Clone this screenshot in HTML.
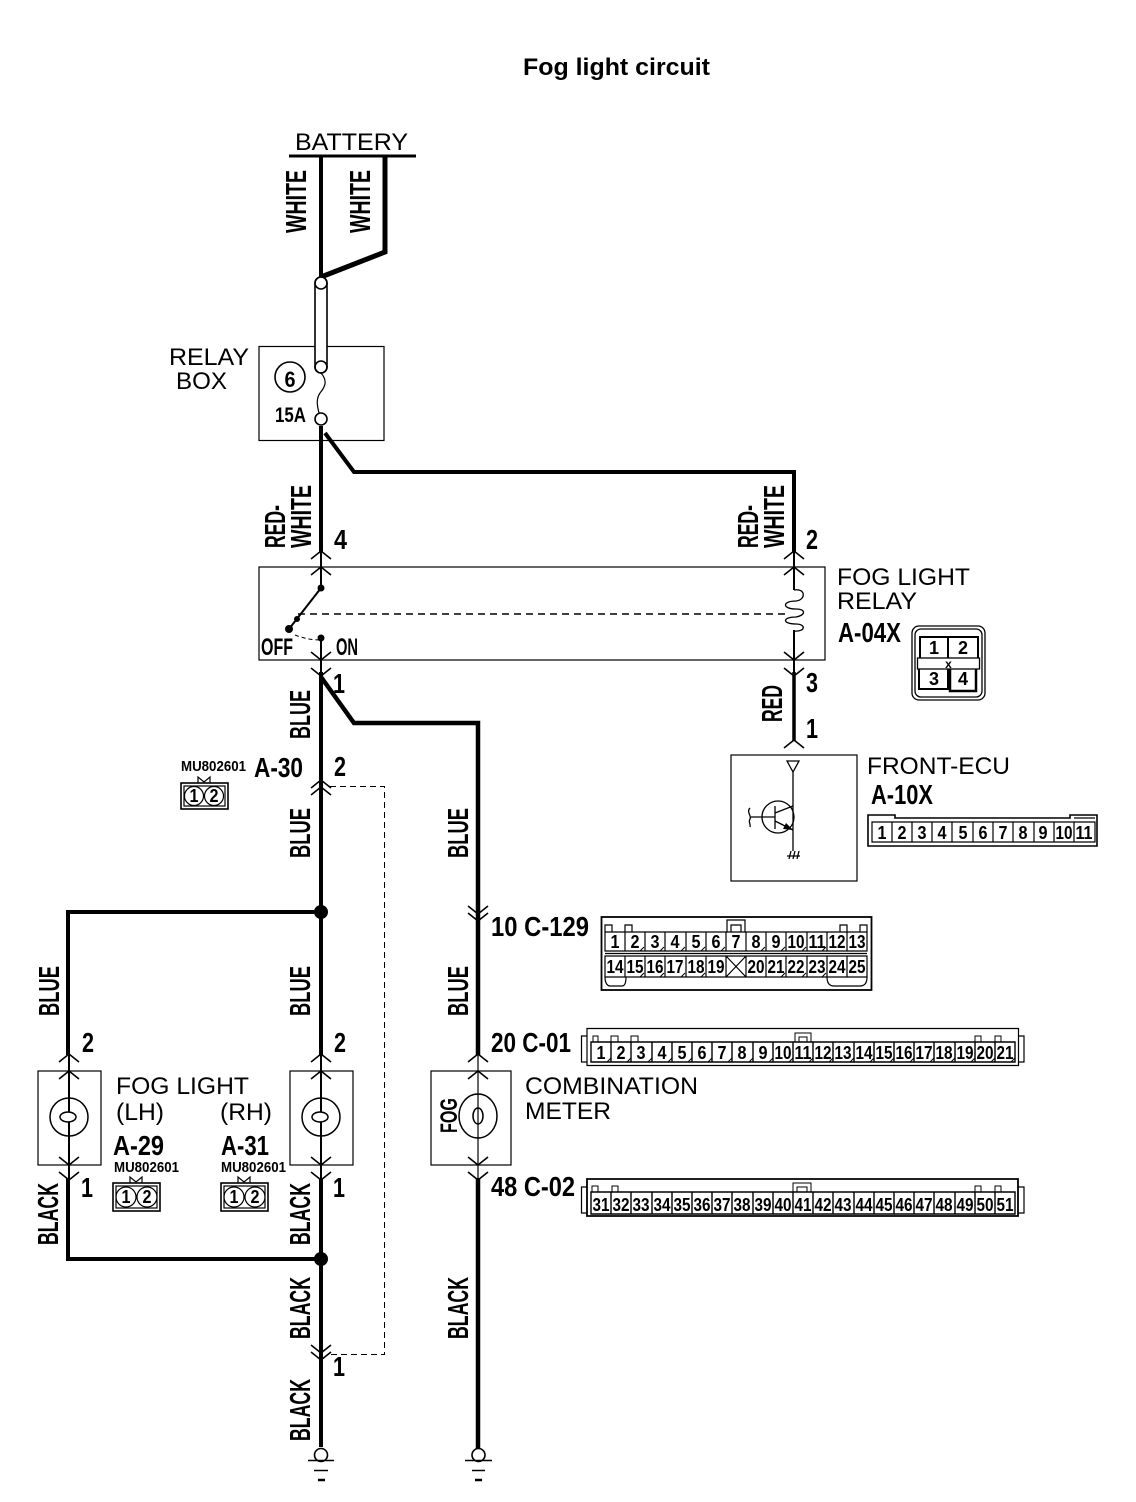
<!DOCTYPE html>
<html><head><meta charset="utf-8"><style>
html,body{margin:0;padding:0;background:#fff}
svg{display:block}
text{font-family:"Liberation Sans",sans-serif;fill:#000}
.b{font-weight:bold}
.n{font-size:24px}
.c{font-weight:bold;font-size:28px}
.w{font-weight:bold;font-size:29px}
.p{font-weight:bold;font-size:18px;text-anchor:middle}
.m{font-weight:bold;font-size:15px}
.l{fill:none;stroke:#000;stroke-linejoin:miter}
</style></head><body>
<svg width="1136" height="1502" viewBox="0 0 1136 1502" xmlns="http://www.w3.org/2000/svg">
<rect width="1136" height="1502" fill="#fff"/>
<text x="523" y="75" class="b" font-size="24" textLength="187" lengthAdjust="spacingAndGlyphs">Fog light circuit</text>

<!-- thick wires -->
<g class="l" stroke-width="4" fill="none" stroke="#000">
<path d="M321 156V278"/>
<path d="M385 156V252L321 277" stroke-width="5"/>
<path d="M321 426V552"/>
<path d="M325 433L354 472H794V552"/>
<path d="M321 672V1055"/>
<path d="M321 677L354 723H478V1055" stroke-width="4.5"/>
<path d="M321 912H68V1055"/>
<path d="M68 1178V1259H321"/>
<path d="M321 1178V1447"/>
<path d="M478 1178V1449" stroke-width="4.5"/>
<path d="M794 672V741" stroke-width="3.5"/>
</g>
<path d="M289 156H416" stroke="#000" stroke-width="3"/>

<!-- boxes -->
<g class="l" stroke-width="1.2" fill="none" stroke="#000">
<rect x="259" y="346.500" width="125" height="94"/>
<rect x="259" y="567" width="566" height="93"/>
<rect x="731" y="755" width="126" height="126"/>
<rect x="38" y="1071" width="63" height="94"/>
<rect x="290" y="1071" width="63" height="94"/>
<rect x="431" y="1071" width="80" height="94"/>
<circle cx="290" cy="377" r="15" stroke-width="1.6"/>
</g>

<!-- fuse -->
<g class="l" stroke-width="1.6" fill="#fff" stroke="#000">
<path d="M315 283V367A6 6 0 0 0 327 367V283A6 6 0 0 0 315 283Z" fill="#fff"/>
<circle cx="321" cy="283" r="6"/>
<circle cx="321" cy="367" r="6"/>
<path d="M321 373C328 381 325 387 320 393C316 399 317 405 319 413" fill="none" stroke-width="1.2"/>
<circle cx="321" cy="419" r="6"/>
</g>

<!-- thin internal lines -->
<g class="l" stroke-width="2" fill="none" stroke="#000">
<path d="M321 550V588L289 629"/>
<path d="M321 638V676"/>
<path d="M794 550V590M794 630V676"/>
<path d="M69 1053V1112M69 1122V1180"/>
<path d="M321 1053V1112M321 1122V1180"/>
<path d="M478 1053V1180" stroke-width="1.2"/>
</g>

<!-- chevrons -->
<g class="l" stroke-width="1.6" fill="none" stroke="#000">
<path d="M311 559L321 551L331 559M311 575L321 567L331 575"/>
<path d="M784 559L794 551L804 559M784 575L794 567L804 575"/>
<path d="M311 652L321 660L331 652M311 668L321 676L331 668"/>
<path d="M784 652L794 660L804 652M784 668L794 676L804 668"/>
<path d="M784 748L794 740L804 748"/>
<path d="M311 788L321 780L331 788M311 795L321 787L331 795"/>
<path d="M311 1345L321 1353L331 1345M311 1352L321 1360L331 1352"/>
<path d="M468 906L478 914L488 906M468 913L478 921L488 913"/>
<path d="M59 1062L69 1054L79 1062M59 1079L69 1071L79 1079"/>
<path d="M311 1062L321 1054L331 1062M311 1079L321 1071L331 1079"/>
<path d="M468 1062L478 1054L488 1062M468 1079L478 1071L488 1079"/>
<path d="M59 1157L69 1165L79 1157M59 1172L69 1180L79 1172"/>
<path d="M311 1157L321 1165L331 1157M311 1172L321 1180L331 1172"/>
<path d="M468 1157L478 1165L488 1157M468 1172L478 1180L488 1172"/>
</g>

<!-- dashes -->
<g fill="none" stroke="#000">
<path d="M298 614H790" stroke-width="1.6" stroke-dasharray="7 5"/>
<path d="M295 635Q308 640 321 640" stroke-width="1" stroke-dasharray="4 3"/>
<path d="M330 786.500H384.500V1354.500H330" stroke-width="1" stroke-dasharray="6 4" shape-rendering="crispEdges"/>
</g>

<!-- dots -->
<circle cx="321" cy="588" r="3.500"/>
<circle cx="289" cy="629" r="4"/>
<circle cx="297" cy="619" r="3"/>
<circle cx="321" cy="638" r="3.500"/>
<circle cx="321" cy="912" r="7"/>
<circle cx="321" cy="1259" r="7"/>

<!-- coil -->
<path d="M794 590C806 588 806 600 796 601C782 601 782 609 796 609C806 609 806 615 796 617C782 617 782 624 796 624C806 624 806 632 794 631" fill="none" stroke="#000" stroke-width="1.3"/>

<!-- lamps -->
<g fill="none" stroke="#000" stroke-width="1.5">
<circle cx="69" cy="1117" r="19"/>
<ellipse cx="68" cy="1117" rx="8" ry="5"/>
<circle cx="321" cy="1117" r="19"/>
<ellipse cx="320" cy="1117" rx="8" ry="5"/>
<ellipse cx="478" cy="1116" rx="19" ry="22"/>
<ellipse cx="478" cy="1116" rx="5" ry="8"/>
</g>

<!-- grounds -->
<g fill="#fff" stroke="#000" stroke-width="1.6">
<circle cx="321" cy="1455" r="6.500"/>
<circle cx="478.500" cy="1455" r="6.500"/>
<path d="M308 1460.500H334M314 1470.500H328M465 1460.500H492M472 1470.500H485" fill="none"/>
<path d="M318 1480H325M475 1480H482" fill="none" stroke-width="2.500"/>
</g>

<!-- transistor -->
<g fill="none" stroke="#000" stroke-width="1.3">
<path d="M787 761H799L793 772Z"/>
<path d="M793 772V851"/>
<circle cx="778" cy="817" r="16"/>
<path d="M751 817H775M775 806V829" />
<path d="M775 813L793 806M775 821L793 830"/>
<path d="M750 808C746 812 752 816 750 819C748 822 751 824 750 827"/>
<path d="M787 856H800M789 859L791 851M793 859L795 851M797 859L799 851"/>
</g>
<path d="M793 830L783 829L786 823Z"/>

<!-- regular labels -->
<g class="n">
<text x="295" y="150" textLength="113" lengthAdjust="spacingAndGlyphs">BATTERY</text>
<text x="169" y="365" textLength="80" lengthAdjust="spacingAndGlyphs">RELAY</text>
<text x="176" y="389" textLength="51" lengthAdjust="spacingAndGlyphs">BOX</text>
<text x="837" y="585" textLength="133" lengthAdjust="spacingAndGlyphs">FOG LIGHT</text>
<text x="837" y="609" textLength="80" lengthAdjust="spacingAndGlyphs">RELAY</text>
<text x="867" y="774" textLength="143" lengthAdjust="spacingAndGlyphs">FRONT-ECU</text>
<text x="116" y="1094" textLength="133" lengthAdjust="spacingAndGlyphs">FOG LIGHT</text>
<text x="116" y="1120" textLength="48" lengthAdjust="spacingAndGlyphs">(LH)</text>
<text x="220" y="1120" textLength="52" lengthAdjust="spacingAndGlyphs">(RH)</text>
<text x="525" y="1094" textLength="173" lengthAdjust="spacingAndGlyphs">COMBINATION</text>
<text x="525" y="1119" textLength="86" lengthAdjust="spacingAndGlyphs">METER</text>
</g>

<!-- condensed bold labels -->
<g class="c">
<text x="290" y="387" style="font-size:22px;text-anchor:middle" textLength="11" lengthAdjust="spacingAndGlyphs">6</text>
<text x="275" y="422" style="font-size:21px" textLength="31" lengthAdjust="spacingAndGlyphs">15A</text>
<text x="334" y="549" textLength="13" lengthAdjust="spacingAndGlyphs">4</text>
<text x="806" y="549" textLength="12" lengthAdjust="spacingAndGlyphs">2</text>
<text x="806" y="692" textLength="12" lengthAdjust="spacingAndGlyphs">3</text>
<text x="806" y="738" textLength="12" lengthAdjust="spacingAndGlyphs">1</text>
<text x="333" y="693" textLength="12" lengthAdjust="spacingAndGlyphs">1</text>
<text x="334" y="776" textLength="12" lengthAdjust="spacingAndGlyphs">2</text>
<text x="82" y="1052" textLength="12" lengthAdjust="spacingAndGlyphs">2</text>
<text x="334" y="1052" textLength="12" lengthAdjust="spacingAndGlyphs">2</text>
<text x="81" y="1197" textLength="12" lengthAdjust="spacingAndGlyphs">1</text>
<text x="333" y="1197" textLength="12" lengthAdjust="spacingAndGlyphs">1</text>
<text x="333" y="1376" textLength="12" lengthAdjust="spacingAndGlyphs">1</text>
<text x="254" y="777" textLength="49" lengthAdjust="spacingAndGlyphs">A-30</text>
<text x="261" y="655" style="font-size:24px" textLength="32" lengthAdjust="spacingAndGlyphs">OFF</text>
<text x="336" y="655" style="font-size:24px" textLength="22" lengthAdjust="spacingAndGlyphs">ON</text>
<text x="838" y="642" textLength="63" lengthAdjust="spacingAndGlyphs">A-04X</text>
<text x="871" y="804" textLength="62" lengthAdjust="spacingAndGlyphs">A-10X</text>
<text x="113" y="1155" textLength="51" lengthAdjust="spacingAndGlyphs">A-29</text>
<text x="221" y="1155" textLength="48" lengthAdjust="spacingAndGlyphs">A-31</text>
<text x="491" y="936" textLength="98" lengthAdjust="spacingAndGlyphs">10 C-129</text>
<text x="491" y="1052" textLength="80" lengthAdjust="spacingAndGlyphs">20 C-01</text>
<text x="491" y="1196" textLength="84" lengthAdjust="spacingAndGlyphs">48 C-02</text>
</g>
<g class="m">
<text x="181" y="771" textLength="65" lengthAdjust="spacingAndGlyphs">MU802601</text>
<text x="114" y="1172" textLength="65" lengthAdjust="spacingAndGlyphs">MU802601</text>
<text x="221" y="1172" textLength="65" lengthAdjust="spacingAndGlyphs">MU802601</text>
</g>

<!-- rotated wire labels -->
<g class="w">
<text transform="translate(306 233) rotate(-90)" textLength="63" lengthAdjust="spacingAndGlyphs">WHITE</text>
<text transform="translate(370 233) rotate(-90)" textLength="63" lengthAdjust="spacingAndGlyphs">WHITE</text>
<text transform="translate(285 548) rotate(-90)" textLength="43" lengthAdjust="spacingAndGlyphs">RED-</text>
<text transform="translate(311 548) rotate(-90)" textLength="63" lengthAdjust="spacingAndGlyphs">WHITE</text>
<text transform="translate(758 548) rotate(-90)" textLength="43" lengthAdjust="spacingAndGlyphs">RED-</text>
<text transform="translate(784 548) rotate(-90)" textLength="63" lengthAdjust="spacingAndGlyphs">WHITE</text>
<text transform="translate(310 739) rotate(-90)" textLength="49" lengthAdjust="spacingAndGlyphs">BLUE</text>
<text transform="translate(310 858) rotate(-90)" textLength="50" lengthAdjust="spacingAndGlyphs">BLUE</text>
<text transform="translate(468 858) rotate(-90)" textLength="50" lengthAdjust="spacingAndGlyphs">BLUE</text>
<text transform="translate(59 1016) rotate(-90)" textLength="50" lengthAdjust="spacingAndGlyphs">BLUE</text>
<text transform="translate(310 1016) rotate(-90)" textLength="50" lengthAdjust="spacingAndGlyphs">BLUE</text>
<text transform="translate(468 1016) rotate(-90)" textLength="50" lengthAdjust="spacingAndGlyphs">BLUE</text>
<text transform="translate(782 722) rotate(-90)" textLength="37" lengthAdjust="spacingAndGlyphs">RED</text>
<text transform="translate(58 1245) rotate(-90)" textLength="62" lengthAdjust="spacingAndGlyphs">BLACK</text>
<text transform="translate(310 1245) rotate(-90)" textLength="62" lengthAdjust="spacingAndGlyphs">BLACK</text>
<text transform="translate(310 1339) rotate(-90)" textLength="62" lengthAdjust="spacingAndGlyphs">BLACK</text>
<text transform="translate(468 1339) rotate(-90)" textLength="62" lengthAdjust="spacingAndGlyphs">BLACK</text>
<text transform="translate(310 1441) rotate(-90)" textLength="62" lengthAdjust="spacingAndGlyphs">BLACK</text>
<text transform="translate(457 1133) rotate(-90)" style="font-size:24px" textLength="35" lengthAdjust="spacingAndGlyphs">FOG</text>
</g>

<!-- A-04X connector -->
<g fill="none" stroke="#000" stroke-width="1.3">
<rect x="912" y="626" width="73" height="74" rx="7"/>
<rect x="915" y="629" width="67" height="68" rx="6"/>
<path d="M920 658V637H978V658M948 637V658" stroke-width="2"/>
<path d="M919 669V689H948V669" stroke-width="2"/>
<path d="M950 669V691H976V669" stroke-width="2.500"/>
<rect x="917.500" y="658" width="62" height="11"/>
</g>
<g class="p">
<text x="934" y="654">1</text><text x="963" y="654">2</text>
<text x="934" y="685">3</text><text x="963" y="685">4</text>
<text x="948.500" y="668" style="font-size:12px">x</text>
</g>

<!-- A-10X connector -->
<path d="M868 846V815H895V818H1070V815H1097V846Z" fill="none" stroke="#000" stroke-width="1.6"/>
<path d="M872 842V822H1095V842ZM892 822V842M912 822V842M932 822V842M952 822V842M973 822V842M993 822V842M1013 822V842M1034 822V842M1054 822V842M1074 822V842M1074 818H1095" fill="none" stroke="#000" stroke-width="1.2"/>
<g class="p">
<text x="882" y="839" textLength="9" lengthAdjust="spacingAndGlyphs">1</text><text x="902" y="839" textLength="9" lengthAdjust="spacingAndGlyphs">2</text><text x="922" y="839" textLength="9" lengthAdjust="spacingAndGlyphs">3</text><text x="942" y="839" textLength="9" lengthAdjust="spacingAndGlyphs">4</text><text x="963" y="839" textLength="9" lengthAdjust="spacingAndGlyphs">5</text><text x="983" y="839" textLength="9" lengthAdjust="spacingAndGlyphs">6</text><text x="1003" y="839" textLength="9" lengthAdjust="spacingAndGlyphs">7</text><text x="1023" y="839" textLength="9" lengthAdjust="spacingAndGlyphs">8</text><text x="1043" y="839" textLength="9" lengthAdjust="spacingAndGlyphs">9</text><text x="1064" y="839" textLength="17" lengthAdjust="spacingAndGlyphs">10</text><text x="1084" y="839" textLength="17" lengthAdjust="spacingAndGlyphs">11</text>
</g>

<!-- C-129 connector -->
<rect x="601.500" y="917" width="270" height="73" fill="none" stroke="#000" stroke-width="1.8"/>
<path d="M605 932H867V951H605ZM605 956H867V977H605ZM605 953.500H867M625 932V951M645 932V951M665 932V951M686 932V951M706 932V951M726 932V951M746 932V951M766 932V951M786 932V951M807 932V951M827 932V951M847 932V951M625 956V977M645 956V977M665 956V977M686 956V977M706 956V977M726 956V977M746 956V977M766 956V977M786 956V977M807 956V977M827 956V977M847 956V977M726 956L746 977M746 956L726 977" fill="none" stroke="#000" stroke-width="1.2"/>
<path d="M605 932V925H612V932M625 932V925H632V932M727 932V920H745V932M731 932V925H741V932M840 932V925H847V932M860 932V925H867V932M605 977C605 984 608 986 610 986H622C624 986 626 984 626 977M827 977C827 984 830 986 834 986H860C864 986 867 984 867 977" fill="none" stroke="#000" stroke-width="1.2"/>
<path d="M640 951l4-4M660 951l4-4M681 951l4-4M701 951l4-4M721 951l4-4M761 951l4-4M781 951l4-4M802 951l4-4M822 951l4-4M640 977l4-4M660 977l4-4M681 977l4-4M701 977l4-4M781 977l4-4M802 977l4-4M822 977l4-4" fill="none" stroke="#000" stroke-width="1"/>
<g class="p">
<text x="615" y="948" textLength="9" lengthAdjust="spacingAndGlyphs">1</text><text x="635" y="948" textLength="9" lengthAdjust="spacingAndGlyphs">2</text><text x="655" y="948" textLength="9" lengthAdjust="spacingAndGlyphs">3</text><text x="675" y="948" textLength="9" lengthAdjust="spacingAndGlyphs">4</text><text x="696" y="948" textLength="9" lengthAdjust="spacingAndGlyphs">5</text><text x="716" y="948" textLength="9" lengthAdjust="spacingAndGlyphs">6</text><text x="736" y="948" textLength="9" lengthAdjust="spacingAndGlyphs">7</text><text x="756" y="948" textLength="9" lengthAdjust="spacingAndGlyphs">8</text><text x="776" y="948" textLength="9" lengthAdjust="spacingAndGlyphs">9</text><text x="796" y="948" textLength="17" lengthAdjust="spacingAndGlyphs">10</text><text x="817" y="948" textLength="17" lengthAdjust="spacingAndGlyphs">11</text><text x="837" y="948" textLength="17" lengthAdjust="spacingAndGlyphs">12</text><text x="857" y="948" textLength="17" lengthAdjust="spacingAndGlyphs">13</text>
<text x="615" y="973" textLength="17" lengthAdjust="spacingAndGlyphs">14</text><text x="635" y="973" textLength="17" lengthAdjust="spacingAndGlyphs">15</text><text x="655" y="973" textLength="17" lengthAdjust="spacingAndGlyphs">16</text><text x="675" y="973" textLength="17" lengthAdjust="spacingAndGlyphs">17</text><text x="696" y="973" textLength="17" lengthAdjust="spacingAndGlyphs">18</text><text x="716" y="973" textLength="17" lengthAdjust="spacingAndGlyphs">19</text><text x="756" y="973" textLength="17" lengthAdjust="spacingAndGlyphs">20</text><text x="776" y="973" textLength="17" lengthAdjust="spacingAndGlyphs">21</text><text x="796" y="973" textLength="17" lengthAdjust="spacingAndGlyphs">22</text><text x="817" y="973" textLength="17" lengthAdjust="spacingAndGlyphs">23</text><text x="837" y="973" textLength="17" lengthAdjust="spacingAndGlyphs">24</text><text x="857" y="973" textLength="17" lengthAdjust="spacingAndGlyphs">25</text>
</g>

<!-- C-01 connector -->
<path d="M587 1028.500H1018.500V1065.500H587ZM587 1036H581.500V1062H587M1018.500 1036H1024V1062H1018.500" fill="none" stroke="#000" stroke-width="1.2"/>
<path d="M591 1042H1015V1062H591ZM611 1042V1062M631 1042V1062M652 1042V1062M672 1042V1062M692 1042V1062M712 1042V1062M732 1042V1062M753 1042V1062M773 1042V1062M793 1042V1062M813 1042V1062M833 1042V1062M854 1042V1062M874 1042V1062M894 1042V1062M914 1042V1062M934 1042V1062M955 1042V1062M975 1042V1062M995 1042V1062" fill="none" stroke="#000" stroke-width="1.4"/>
<path d="M593 1042V1036H598V1042M611 1042V1036H618V1042M631 1042V1036H638V1042M795 1042V1033H811V1042M799 1042V1037H807V1042M975 1042V1036H981V1042M995 1042V1036H1001V1042" fill="none" stroke="#000" stroke-width="1"/>
<path d="M607 1062l4-4M627 1062l4-4M648 1062l4-4M668 1062l4-4M688 1062l4-4M708 1062l4-4M728 1062l4-4M749 1062l4-4M769 1062l4-4M789 1062l4-4M809 1062l4-4M829 1062l4-4M850 1062l4-4M870 1062l4-4M890 1062l4-4M910 1062l4-4M930 1062l4-4M951 1062l4-4M971 1062l4-4M991 1062l4-4M1011 1062l4-4" fill="none" stroke="#000" stroke-width="1"/>
<g class="p">
<text x="601" y="1059" textLength="9" lengthAdjust="spacingAndGlyphs">1</text><text x="621" y="1059" textLength="9" lengthAdjust="spacingAndGlyphs">2</text><text x="641" y="1059" textLength="9" lengthAdjust="spacingAndGlyphs">3</text><text x="662" y="1059" textLength="9" lengthAdjust="spacingAndGlyphs">4</text><text x="682" y="1059" textLength="9" lengthAdjust="spacingAndGlyphs">5</text><text x="702" y="1059" textLength="9" lengthAdjust="spacingAndGlyphs">6</text><text x="722" y="1059" textLength="9" lengthAdjust="spacingAndGlyphs">7</text><text x="742" y="1059" textLength="9" lengthAdjust="spacingAndGlyphs">8</text><text x="763" y="1059" textLength="9" lengthAdjust="spacingAndGlyphs">9</text><text x="783" y="1059" textLength="17" lengthAdjust="spacingAndGlyphs">10</text><text x="803" y="1059" textLength="17" lengthAdjust="spacingAndGlyphs">11</text><text x="823" y="1059" textLength="17" lengthAdjust="spacingAndGlyphs">12</text><text x="843" y="1059" textLength="17" lengthAdjust="spacingAndGlyphs">13</text><text x="864" y="1059" textLength="17" lengthAdjust="spacingAndGlyphs">14</text><text x="884" y="1059" textLength="17" lengthAdjust="spacingAndGlyphs">15</text><text x="904" y="1059" textLength="17" lengthAdjust="spacingAndGlyphs">16</text><text x="924" y="1059" textLength="17" lengthAdjust="spacingAndGlyphs">17</text><text x="944" y="1059" textLength="17" lengthAdjust="spacingAndGlyphs">18</text><text x="965" y="1059" textLength="17" lengthAdjust="spacingAndGlyphs">19</text><text x="985" y="1059" textLength="17" lengthAdjust="spacingAndGlyphs">20</text><text x="1005" y="1059" textLength="17" lengthAdjust="spacingAndGlyphs">21</text>
</g>

<!-- C-02 connector -->
<path d="M587 1179H1018V1216H587Z" fill="none" stroke="#000" stroke-width="1.8"/>
<path d="M587 1187H581.500V1213H587M1018 1187H1024V1213H1018" fill="none" stroke="#000" stroke-width="1.2"/>
<path d="M591 1192H1015V1214H591ZM611 1192V1214M631 1192V1214M652 1192V1214M672 1192V1214M692 1192V1214M712 1192V1214M732 1192V1214M753 1192V1214M773 1192V1214M793 1192V1214M813 1192V1214M833 1192V1214M854 1192V1214M874 1192V1214M894 1192V1214M914 1192V1214M934 1192V1214M955 1192V1214M975 1192V1214M995 1192V1214" fill="none" stroke="#000" stroke-width="1.4"/>
<path d="M592 1192V1186H598V1192M612 1192V1186H618V1192M793 1192V1183H811V1192M797 1192V1187H807V1192M975 1192V1186H981V1192M995 1192V1186H1001V1192" fill="none" stroke="#000" stroke-width="1"/>
<g class="p">
<text x="601" y="1211" textLength="17" lengthAdjust="spacingAndGlyphs">31</text><text x="621" y="1211" textLength="17" lengthAdjust="spacingAndGlyphs">32</text><text x="641" y="1211" textLength="17" lengthAdjust="spacingAndGlyphs">33</text><text x="662" y="1211" textLength="17" lengthAdjust="spacingAndGlyphs">34</text><text x="682" y="1211" textLength="17" lengthAdjust="spacingAndGlyphs">35</text><text x="702" y="1211" textLength="17" lengthAdjust="spacingAndGlyphs">36</text><text x="722" y="1211" textLength="17" lengthAdjust="spacingAndGlyphs">37</text><text x="742" y="1211" textLength="17" lengthAdjust="spacingAndGlyphs">38</text><text x="763" y="1211" textLength="17" lengthAdjust="spacingAndGlyphs">39</text><text x="783" y="1211" textLength="17" lengthAdjust="spacingAndGlyphs">40</text><text x="803" y="1211" textLength="17" lengthAdjust="spacingAndGlyphs">41</text><text x="823" y="1211" textLength="17" lengthAdjust="spacingAndGlyphs">42</text><text x="843" y="1211" textLength="17" lengthAdjust="spacingAndGlyphs">43</text><text x="864" y="1211" textLength="17" lengthAdjust="spacingAndGlyphs">44</text><text x="884" y="1211" textLength="17" lengthAdjust="spacingAndGlyphs">45</text><text x="904" y="1211" textLength="17" lengthAdjust="spacingAndGlyphs">46</text><text x="924" y="1211" textLength="17" lengthAdjust="spacingAndGlyphs">47</text><text x="944" y="1211" textLength="17" lengthAdjust="spacingAndGlyphs">48</text><text x="965" y="1211" textLength="17" lengthAdjust="spacingAndGlyphs">49</text><text x="985" y="1211" textLength="17" lengthAdjust="spacingAndGlyphs">50</text><text x="1005" y="1211" textLength="17" lengthAdjust="spacingAndGlyphs">51</text>
</g>

<!-- small 2-pin connectors -->
<g fill="none" stroke="#000" stroke-width="1.2">
<rect x="181" y="783" width="47" height="26" stroke-width="1.6"/>
<rect x="184" y="786" width="41" height="20"/>
<circle cx="194" cy="796" r="9.500"/><circle cx="214" cy="796" r="9.500"/>
<path d="M198 783V777L204 782L210 777V783"/>
<rect x="113" y="1183" width="47" height="28" stroke-width="1.6"/>
<rect x="116" y="1186" width="41" height="22"/>
<circle cx="126" cy="1197" r="10"/><circle cx="147" cy="1197" r="10"/>
<path d="M130 1183V1177L136 1182L142 1177V1183"/>
<rect x="221" y="1183" width="47" height="28" stroke-width="1.6"/>
<rect x="224" y="1186" width="41" height="22"/>
<circle cx="234" cy="1197" r="10"/><circle cx="255" cy="1197" r="10"/>
<path d="M238 1183V1177L244 1182L250 1177V1183"/>
</g>
<g class="p">
<text x="194" y="802" textLength="9" lengthAdjust="spacingAndGlyphs">1</text><text x="214" y="802" textLength="9" lengthAdjust="spacingAndGlyphs">2</text>
<text x="126" y="1203" textLength="9" lengthAdjust="spacingAndGlyphs">1</text><text x="147" y="1203" textLength="9" lengthAdjust="spacingAndGlyphs">2</text>
<text x="234" y="1203" textLength="9" lengthAdjust="spacingAndGlyphs">1</text><text x="255" y="1203" textLength="9" lengthAdjust="spacingAndGlyphs">2</text>
</g>
</svg>
</body></html>
